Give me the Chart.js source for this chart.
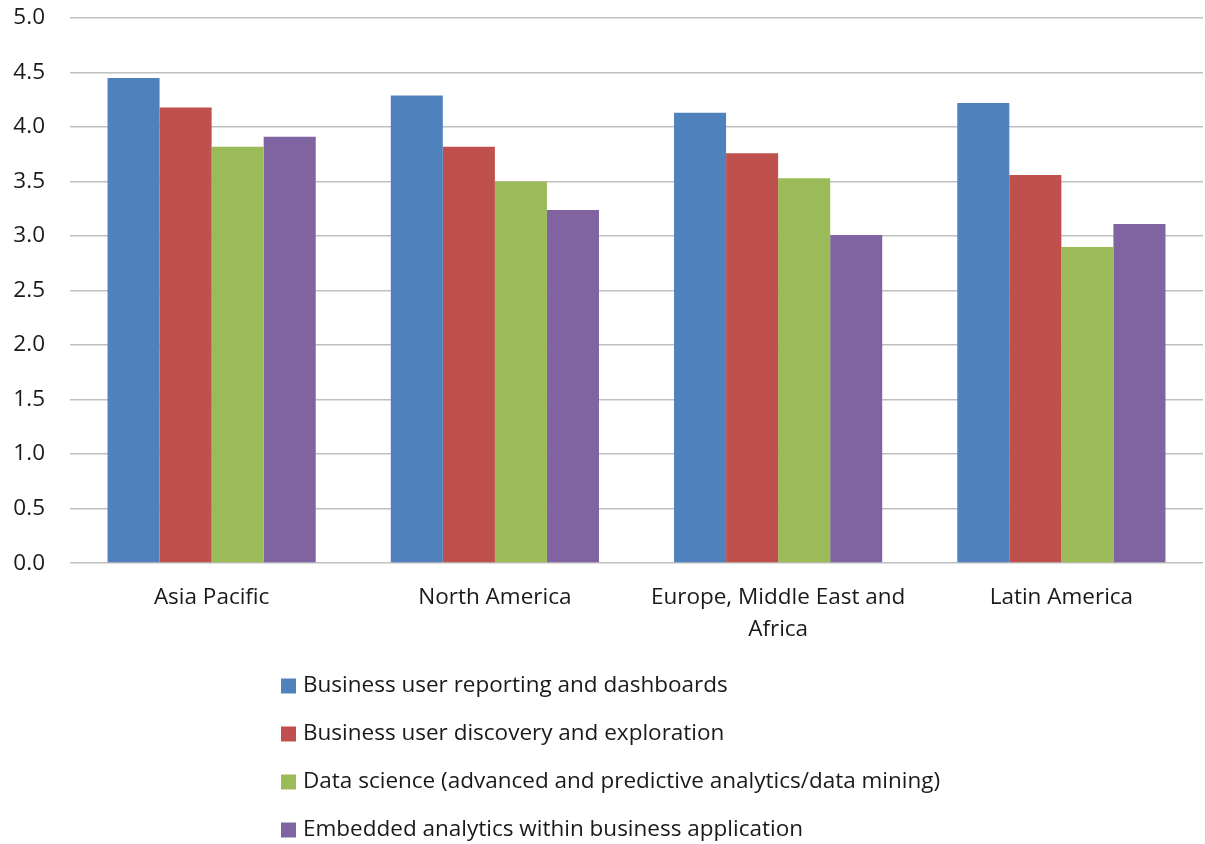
<!DOCTYPE html>
<html>
<head>
<meta charset="utf-8">
<script src="https://cdn.jsdelivr.net/npm/chart.js@4.4.1/dist/chart.umd.min.js"></script>
<style>
  html, body { margin: 0; padding: 0; background: #ffffff; }
  #wrap { position: relative; width: 1205px; height: 844px; }
</style>
</head>
<body>
<div id="wrap"><canvas id="chart" width="1205" height="844"></canvas></div>
<script>
// Regions along the x axis (multi-line labels wrap like the original axis)
const regions = [
  'Asia Pacific',
  'North America',
  ['Europe, Middle East and', 'Africa'],
  'Latin America'
];

const seriesNames = [
  'Business user reporting and dashboards',
  'Business user discovery and exploration',
  'Data science (advanced and predictive analytics/data mining)',
  'Embedded analytics within business application'
];

const reportingDashboards = [4.45, 4.29, 4.13, 4.22];
const discoveryExploration = [4.18, 3.82, 3.76, 3.56];
const dataScience = [3.82, 3.50, 3.53, 2.90];
const embeddedAnalytics = [3.91, 3.24, 3.01, 3.11];

const seriesColors = ['#4F81BD', '#C0504D', '#9BBB59', '#8064A2'];

const yTicks = [0, 0.5, 1.0, 1.5, 2.0, 2.5, 3.0, 3.5, 4.0, 4.5, 5.0];

const FONT = '"Open Sans", Lato, sans-serif';
const FONT_SIZE = 22.5;
const TEXT = '#1a1a1a';

const seriesValues = [reportingDashboards, discoveryExploration, dataScience, embeddedAnalytics];

// Vertical legend drawn below the axis, one entry per line
const stackedLegend = {
  id: 'stackedLegend',
  afterDraw(chart) {
    const ctx = chart.ctx;
    const left = 281;
    const firstRowY = 686;
    const rowGap = 48;
    const box = 15;
    ctx.save();
    ctx.font = FONT_SIZE + 'px ' + FONT;
    ctx.textBaseline = 'middle';
    ctx.textAlign = 'left';
    chart.data.datasets.forEach((ds, i) => {
      const y = firstRowY + i * rowGap;
      ctx.fillStyle = ds.backgroundColor;
      ctx.fillRect(left, y - box / 2, box, box);
      ctx.fillStyle = TEXT;
      ctx.fillText(ds.label, 303, y);
    });
    ctx.restore();
  }
};

new Chart(document.getElementById('chart'), {
  type: 'bar',
  data: {
    labels: regions,
    datasets: seriesNames.map((name, i) => ({
      label: name,
      data: seriesValues[i],
      backgroundColor: seriesColors[i],
      borderWidth: 0,
      barPercentage: 1.0,
      categoryPercentage: 0.735
    }))
  },
  options: {
    responsive: false,
    animation: false,
    devicePixelRatio: 1,
    layout: { padding: { left: 0, right: 2, top: 18, bottom: 187 } },
    plugins: {
      legend: { display: false },
      tooltip: { enabled: false }
    },
    scales: {
      x: {
        grid: { display: false },
        border: { display: false },
        ticks: {
          color: TEXT,
          font: { family: FONT, size: FONT_SIZE, lineHeight: 1.42 },
          padding: 11,
          maxRotation: 0,
          autoSkip: false
        }
      },
      y: {
        min: 0,
        max: 5,
        afterBuildTicks(scale) {
          scale.ticks = yTicks.map(v => ({ value: v }));
        },
        afterFit(scale) {
          scale.width = 70;
          // label gap should not push the plot area down
          scale.paddingTop = 0;
          scale.paddingBottom = 0;
        },
        grid: {
          color: '#BFBFBF',
          lineWidth: 1.5,
          drawTicks: false
        },
        border: { display: false },
        ticks: {
          color: TEXT,
          font: { family: FONT, size: FONT_SIZE },
          padding: 25,
          callback: v => Number(v).toFixed(1)
        }
      }
    }
  },
  plugins: [stackedLegend]
});
</script>
</body>
</html>
